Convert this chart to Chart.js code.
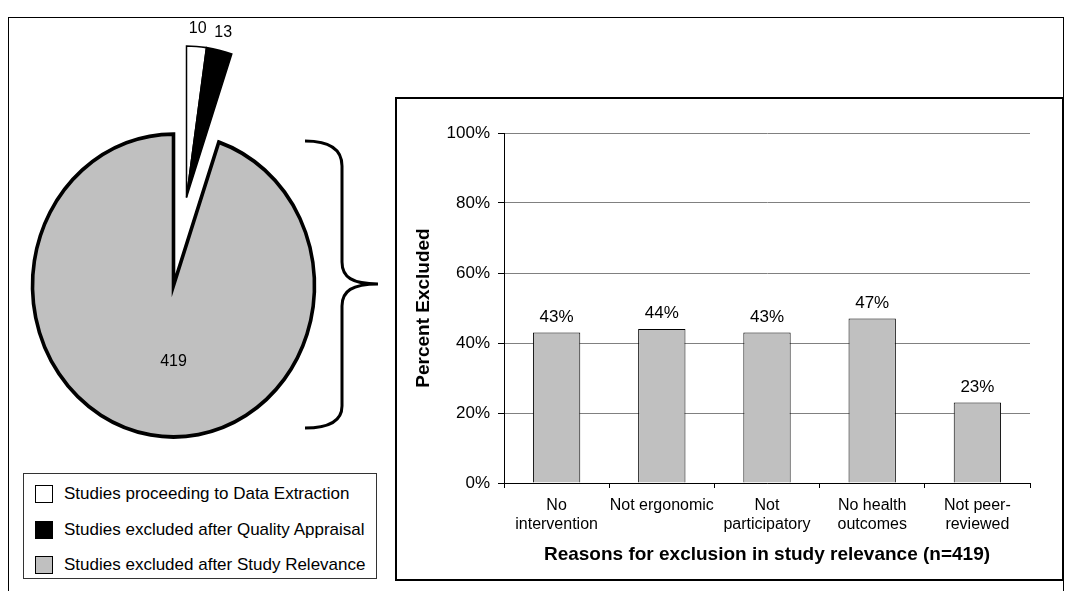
<!DOCTYPE html>
<html>
<head>
<meta charset="utf-8">
<script src="https://cdn.jsdelivr.net/npm/chart.js@4.4.0/dist/chart.umd.min.js"></script>
<style>
  html, body { margin: 0; padding: 0; background: #fff; width: 1073px; height: 591px; overflow: hidden;
    font-family: "Liberation Sans", Arial, sans-serif; color: #000; }
  .abs { position: absolute; }
  #frame { left: 8px; top: 17px; width: 1056px; height: 620px; border: 1px solid #000; box-sizing: border-box; }
  #barBox { left: 395px; top: 97px; width: 669px; height: 484px; border: 2px solid #000; box-sizing: border-box; background: #fff; }
  #legend { left: 23px; top: 473px; width: 354px; height: 106px; border: 1px solid #333; box-sizing: border-box; background: #fff; }
  .row { position: absolute; left: 11px; height: 20px; font-size: 17px; line-height: 20px; white-space: nowrap; }
  .sw { position: absolute; left: 0; top: 1px; width: 18px; height: 18px; border: 1px solid #000; box-sizing: border-box; }
  .tx { position: absolute; left: 29px; top: 0; }
</style>
</head>
<body>
<div id="frame" class="abs"></div>
<div id="barBox" class="abs"></div>
<canvas id="pieBase" class="abs" width="401" height="401" style="left:-27px;top:85px;"></canvas>
<canvas id="pieOut" class="abs" width="401" height="401" style="left:-14px;top:-3px;"></canvas>
<svg class="abs" style="left:0;top:0;" width="1073" height="591">
  <path d="M305,141 C330,141 342,149 342,166 L342,262 C342,277 352,284 378,284 C352,284 342,291 342,306 L342,406 C342,420 330,428 305,428"
        fill="none" stroke="#000" stroke-width="3"/>
</svg>
<div id="legend" class="abs"></div>
<canvas id="bars" class="abs" width="665" height="480" style="left:397px;top:99px;"></canvas>

<script>
// ---- data ----
const pieLabels = ['Studies proceeding to Data Extraction',
                   'Studies excluded after Quality Appraisal',
                   'Studies excluded after Study Relevance'];
const pieCounts = [10, 13, 419];
const pieColors = ['#ffffff', '#000000', '#c0c0c0'];
const pieExploded = [true, true, false];

const reasonLabels = [['No', 'intervention'], 'Not ergonomic', ['Not', 'participatory'],
                      ['No health', 'outcomes'], ['Not peer-', 'reviewed']];
const percentExcluded = [43, 44, 43, 47, 23];
const yTickValues = [0, 20, 40, 60, 80, 100];
const yTickLabels = ['0%', '20%', '40%', '60%', '80%', '100%'];

const FONT = '"Liberation Sans", Arial, sans-serif';
Chart.defaults.font.family = FONT;
Chart.defaults.font.size = 16;
Chart.defaults.color = '#000';

// ---- pie: an ellipse (vertical stretch) with the two small slices pulled out together ----
const PIE_R = 141;
const PIE_K = 1.074;
const TRANSPARENT = 'rgba(0,0,0,0)';

const ellipsePlugin = {
  id: 'ellipse',
  beforeDatasetsDraw(chart) {
    const a = chart.getDatasetMeta(0).data[0];
    const ctx = chart.ctx;
    ctx.save();
    ctx.translate(a.x, a.y);
    ctx.scale(1, PIE_K);
    ctx.translate(-a.x, -a.y);
  },
  afterDatasetsDraw(chart) { chart.ctx.restore(); }
};

const pieValuePlugin = {
  id: 'pieValues',
  afterDatasetsDraw(chart, args, opts) {
    const meta = chart.getDatasetMeta(0);
    const ctx = chart.ctx;
    ctx.save();
    ctx.font = '16px ' + FONT;
    ctx.fillStyle = '#000';
    ctx.textAlign = 'center';
    ctx.textBaseline = 'middle';
    meta.data.forEach((arc, i) => {
      if (pieExploded[i] !== opts.exploded) return;
      const mid = (arc.startAngle + arc.endAngle) / 2;
      let x, y;
      if (opts.exploded) {
        const r = arc.outerRadius + 17;
        x = arc.x + Math.cos(mid) * r;
        y = arc.y + Math.sin(mid) * r * PIE_K;
      } else {
        x = arc.x;
        y = arc.y + arc.outerRadius * 0.5 * PIE_K;
      }
      ctx.fillText(String(pieCounts[i]), x, y);
    });
    ctx.restore();
  }
};

function makePie(id, exploded) {
  const show = pieExploded.map(e => e === exploded);
  return new Chart(document.getElementById(id), {
    type: 'pie',
    data: {
      labels: pieLabels,
      datasets: [{
        data: pieCounts,
        backgroundColor: pieColors.map((c, i) => show[i] ? c : TRANSPARENT),
        borderColor: pieColors.map((c, i) => show[i] ? '#000' : TRANSPARENT),
        borderWidth: pieColors.map((c, i) => show[i] ? (exploded ? 1.5 : 3.6) : 0),
        borderJoinStyle: 'miter',
        radius: PIE_R,
        clip: false
      }]
    },
    options: {
      responsive: false,
      animation: false,
      events: [],
      layout: { padding: 0 },
      plugins: { legend: { display: false }, tooltip: { enabled: false },
                 pieValues: { exploded: exploded } }
    },
    plugins: [ellipsePlugin, pieValuePlugin]
  });
}
makePie('pieBase', false);
makePie('pieOut', true);

// legend for the pie
const legendEl = document.getElementById('legend');
pieLabels.forEach((label, i) => {
  const row = document.createElement('div');
  row.className = 'row';
  row.style.top = (10 + i * 35.5) + 'px';
  const sw = document.createElement('div');
  sw.className = 'sw';
  sw.style.background = pieColors[i];
  const tx = document.createElement('div');
  tx.className = 'tx';
  tx.textContent = label;
  row.appendChild(sw);
  row.appendChild(tx);
  legendEl.appendChild(row);
});

// ---- bar chart: reasons for exclusion ----
const barValuePlugin = {
  id: 'barValues',
  afterDatasetsDraw(chart) {
    const ctx = chart.ctx;
    const meta = chart.getDatasetMeta(0);
    ctx.save();
    ctx.font = '17px ' + FONT;
    ctx.fillStyle = '#000';
    ctx.textAlign = 'center';
    ctx.textBaseline = 'bottom';
    meta.data.forEach((bar, i) => {
      ctx.fillText(percentExcluded[i] + '%', bar.x, bar.y - 7);
    });
    ctx.restore();
  }
};

new Chart(document.getElementById('bars'), {
  type: 'bar',
  data: {
    labels: reasonLabels,
    datasets: [{
      data: percentExcluded,
      backgroundColor: '#c0c0c0',
      borderColor: '#000',
      borderWidth: 1,
      categoryPercentage: 1,
      barPercentage: 0.45
    }]
  },
  options: {
    responsive: false,
    animation: false,
    events: [],
    layout: { padding: { left: 0, right: 32, top: 34, bottom: 0 } },
    plugins: { legend: { display: false }, tooltip: { enabled: false } },
    scales: {
      x: {
        grid: { drawOnChartArea: false, drawTicks: true, tickLength: 5, color: '#000', offset: true },
        border: { color: '#000', width: 1 },
        ticks: { color: '#000', font: { size: 16 }, padding: 8, maxRotation: 0, autoSkip: false },
        title: { display: true, text: 'Reasons for exclusion in study relevance (n=419)',
                 color: '#000', font: { size: 19, weight: 'bold' }, padding: { top: 4, bottom: 13 } },
        afterFit(scale) { scale.height = 96; }
      },
      y: {
        min: 0, max: 100,
        afterBuildTicks(scale) { scale.ticks = yTickValues.map(v => ({ value: v })); },
        ticks: { color: '#000', font: { size: 17 }, padding: 8,
                 callback: (v, i) => yTickLabels[i] },
        grid: { color: '#808080', lineWidth: 1, tickLength: 6, tickColor: '#000' },
        border: { color: '#000', width: 1 },
        title: { display: true, text: 'Percent Excluded', color: '#000',
                 font: { size: 19, weight: 'bold' }, padding: { top: 15, bottom: 0 } },
        afterFit(scale) { scale.width = 107; }
      }
    }
  },
  plugins: [barValuePlugin]
});
</script>
</body>
</html>
